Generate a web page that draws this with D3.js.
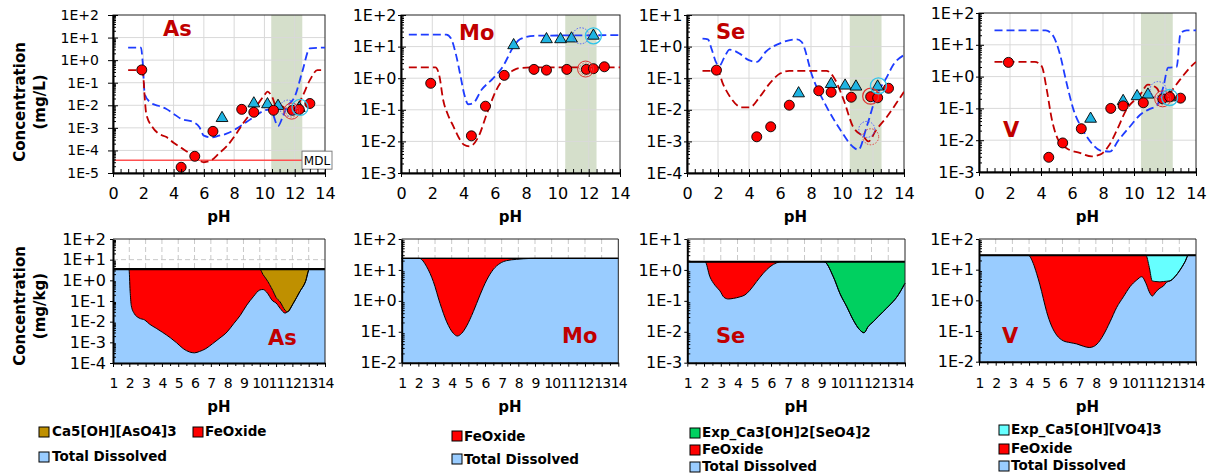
<!DOCTYPE html>
<html><head><meta charset="utf-8">
<script src="https://cdn.jsdelivr.net/npm/d3@7"></script>
<style>body{margin:0;background:#fff}svg{display:block}</style>
</head><body>
<svg id="c" width="1214" height="476"></svg>
<script>
// ================= DATA =================
// measured samples (top row), pH of each sample
const sampleRedPH = [1.9, 4.5, 5.4, 6.6, 8.5, 9.3, 10.6, 11.85, 12.3, 13.0];
const sampleTriPH = [7.2, 9.3, 10.2, 10.9, 12.3];

const asRed = [0.37, 1.8e-5, 5.5e-5, 7e-4, 6.6e-3, 4.9e-3, 6e-3, 6e-3, 6.5e-3, 1.2e-2];
const asTri = [2.7e-3, 1.2e-2, 1.1e-2, 9.3e-3, 7.5e-3];
const moRed = [0.69, 0.015, 0.13, 1.23, 1.9, 1.8, 1.9, 1.9, 2.0, 2.3];
const moTri = [11, 17, 17, 18, 22];
const seRed = [0.18, 1.4e-3, 2.9e-3, 0.014, 0.04, 0.036, 0.025, 0.026, 0.024, 0.048];
const seTri = [0.033, 0.065, 0.058, 0.054, 0.054];
const vRed = [2.8, 2.9e-3, 8.2e-3, 0.023, 0.1, 0.12, 0.15, 0.2, 0.23, 0.21];
const vTri = [0.047, 0.17, 0.24, 0.27, 0.22];

// highlighted (open) circles: [pH, value, kind]
const asOpen = [[11.55, 7.5e-3, "blueDot"], [11.8, 5.5e-3, "redDouble"], [12.35, 8e-3, "cyan"]];
const moOpen = [[11.5, 22, "blueDot"], [11.8, 1.95, "redDouble"], [12.3, 22, "cyan"]];
const seOpen = [[11.6, 2.4e-3, "blueDot"], [11.85, 1.4e-3, "redDot"], [11.85, 0.027, "red"], [12.35, 0.057, "cyan"]];
const vOpen = [[11.55, 0.39, "blueDot"], [11.85, 0.2, "redDouble"], [12.3, 0.22, "cyan"]];

// model curves (top row): [pH, mg/L]
const asBlueModel = [[1,3.6],[1.85,3.6],[1.95,1.0],[2.1,0.03],[2.5,0.013],[3,0.0095],[3.5,0.007],[4,0.0042],[4.5,0.0025],[5.3,0.0018],[5.7,0.0011],[6,0.00045],[6.5,0.00038],[7,0.00045],[7.5,0.00055],[8,0.0008],[8.5,0.0013],[9,0.0022],[9.5,0.0037],[10,0.006],[10.4,0.0065],[10.9,0.0012],[11.2,0.003],[11.5,0.0087],[12,0.024],[12.5,0.31],[13,3.3],[14,3.6]];
const asRedModel = [[1,0.36],[1.9,0.36],[2.0,0.2],[2.08,0.03],[2.2,0.004],[2.6,0.0011],[3,0.00056],[3.5,0.0004],[4,0.00022],[4.5,0.00013],[5,0.00008],[5.5,0.000045],[6,0.00003],[6.5,0.000037],[7,0.000074],[7.5,0.00015],[8,0.0004],[8.5,0.0013],[9,0.0037],[9.5,0.01],[10,0.028],[10.2,0.04],[10.5,0.024],[10.8,0.0085],[11.2,0.009],[11.5,0.0056],[12,0.007],[12.5,0.024],[13,0.13],[13.5,0.36],[14,0.36]];
const moBlueModel = [[0.5,24],[2.9,24],[3.2,18],[3.5,6],[3.8,1.2],[4.05,0.3],[4.3,0.15],[4.6,0.16],[5.15,0.43],[5.9,1],[6.5,2.3],[7.2,10],[7.6,17],[8.5,22],[14,23]];
const moRedModel = [[0.5,2.2],[2.2,2.2],[2.45,1.2],[2.7,0.2],[3.0,0.07],[3.35,0.03],[3.7,0.013],[4,0.008],[4.4,0.007],[4.95,0.014],[5.5,0.078],[6.1,0.43],[6.65,1.1],[7.2,1.8],[7.6,2.1],[8.5,2.2],[14,2.2]];
const seBlueModel = [[1,1.8],[1.35,1.7],[1.6,0.8],[1.9,0.3],[2.1,0.25],[2.4,0.45],[2.75,0.8],[3.4,0.6],[3.95,0.38],[4.5,0.33],[5.1,0.7],[6,1.27],[7.1,1.7],[7.4,1.4],[8.1,0.11],[9,0.0126],[9.9,0.0023],[10.7,0.00068],[11.05,0.00054],[11.6,0.003],[12.2,0.026],[12.9,0.11],[13.3,0.26],[14,0.54]];
const seRedModel = [[1,0.17],[2.0,0.17],[2.3,0.07],[2.85,0.023],[3.5,0.012],[4.05,0.012],[4.7,0.026],[5.35,0.07],[6,0.14],[6.6,0.17],[9,0.17],[9.45,0.11],[10.1,0.021],[10.7,0.003],[11.4,0.0014],[11.7,0.001],[12.2,0.0023],[12.9,0.006],[13.5,0.016],[14,0.037]];
const vBlueModel = [[1,28.5],[4.3,28.5],[4.8,18.5],[5.2,5.5],[5.65,0.63],[6.1,0.09],[6.7,0.021],[7.27,0.008],[7.8,0.0048],[8.45,0.0044],[9,0.01],[9.74,0.027],[10.4,0.063],[11,0.095],[11.46,0.12],[11.9,0.49],[12.2,1.9],[12.75,2],[13.0,23],[13.4,28.5],[14,28.5]];
const vRedModel = [[1,2.9],[3.6,2.9],[4.05,2.1],[4.37,0.39],[4.7,0.045],[5.1,0.0105],[5.65,0.0056],[6.5,0.004],[7.27,0.0031],[7.8,0.0035],[8.35,0.0064],[8.9,0.021],[9.5,0.09],[10.4,0.27],[10.9,0.56],[11.46,0.44],[11.9,0.19],[12.3,0.3],[12.97,0.8],[13.6,1.9],[14,2.9]];

// shaded pH band and MDL
const asBand = [10.45, 12.5];
const moBand = [10.5, 12.5];
const seBand = [10.5, 12.55];
const vBand = [10.45, 12.5];
const asMDL = 3.7e-5;

// tick labels
const topXTicks = [0, 2, 4, 6, 8, 10, 12, 14];
const bottomXTicks = [1, 2, 3, 4, 5, 6, 7, 8, 9, 10, 11, 12, 13, 14];

// bottom row: partitioning (mg/kg)
const asPH = [1, 1.98, 2.05, 2.12, 2.3, 2.6, 2.95, 3.25, 3.65, 4.05, 4.5, 4.9, 5.3, 5.7, 6.0, 6.3, 6.7, 7.1, 7.5, 8.0, 8.4, 8.8, 9.2, 9.6, 10.0, 10.2, 10.4, 10.8, 11.0, 11.25, 11.55, 11.7, 12.05, 12.45, 12.8, 13.05, 14];
const asDissolved = [3.5, 3.5, 0.3, 0.06, 0.025, 0.015, 0.012, 0.0075, 0.0048, 0.003, 0.0017, 0.00095, 0.0005, 0.00034, 0.00031, 0.00036, 0.0005, 0.00085, 0.0015, 0.0032, 0.008, 0.02, 0.063, 0.16, 0.34, 0.36, 0.28, 0.1, 0.08, 0.044, 0.026, 0.03, 0.076, 0.28, 0.85, 3.5, 3.5];
const asFeOxide = [0, 0, 3.2, 3.44, 3.48, 3.49, 3.49, 3.49, 3.5, 3.5, 3.5, 3.5, 3.5, 3.5, 3.5, 3.5, 3.5, 3.5, 3.5, 3.5, 3.49, 3.48, 3.44, 3.34, 3.16, 1.54, 0.87, 0.22, 0.07, 0.046, 0.01, 0, 0, 0, 0, 0, 0];
const asMineral = [0, 0, 0, 0, 0, 0, 0, 0, 0, 0, 0, 0, 0, 0, 0, 0, 0, 0, 0, 0, 0, 0, 0, 0, 0, 1.6, 2.35, 3.18, 3.35, 3.41, 3.46, 3.47, 3.42, 3.22, 2.65, 0, 0];

const moPH = [1, 2.06, 2.5, 2.9, 3.3, 3.7, 4.1, 4.34, 4.6, 4.9, 5.3, 5.7, 6.1, 6.5, 6.9, 7.3, 7.9, 8.7, 9.2, 14];
const moDissolved = [23.7, 23.7, 12.7, 4.2, 0.83, 0.21, 0.089, 0.073, 0.089, 0.155, 0.45, 1.55, 4.7, 10.4, 16.3, 20, 22, 23.5, 23.7, 23.7];
const moFeOxide = [0, 0, 11, 19.5, 22.9, 23.5, 23.6, 23.6, 23.6, 23.5, 23.25, 22.15, 19, 13.3, 7.4, 3.7, 1.7, 0.2, 0, 0];

const sePH = [1, 2.06, 2.35, 2.65, 2.95, 3.19, 3.45, 3.75, 4.15, 4.44, 4.74, 5.14, 5.54, 5.94, 6.34, 6.65, 9.16, 9.72, 10.12, 10.52, 10.91, 11.3, 11.55, 11.81, 12.1, 12.4, 12.7, 13.1, 13.5, 14];
const seDissolved = [1.85, 1.85, 0.6, 0.32, 0.21, 0.13, 0.115, 0.12, 0.135, 0.155, 0.22, 0.42, 0.78, 1.27, 1.7, 1.85, 1.85, 0.6, 0.17, 0.065, 0.024, 0.0115, 0.0093, 0.015, 0.021, 0.031, 0.045, 0.074, 0.13, 0.37];
const seFeOxide = [0, 0, 1.25, 1.53, 1.64, 1.72, 1.735, 1.73, 1.715, 1.695, 1.63, 1.43, 1.07, 0.58, 0.15, 0, 0, 0, 0, 0, 0, 0, 0, 0, 0, 0, 0, 0, 0, 0];
const seMineral = [0, 0, 0, 0, 0, 0, 0, 0, 0, 0, 0, 0, 0, 0, 0, 0, 0, 1.25, 1.68, 1.785, 1.826, 1.838, 1.84, 1.835, 1.829, 1.819, 1.805, 1.776, 1.72, 1.48];

const vPH = [1, 3.96, 4.25, 4.45, 4.65, 4.85, 5.05, 5.35, 5.65, 6.05, 6.45, 6.85, 7.25, 7.6, 7.85, 8.15, 8.45, 8.85, 9.25, 9.65, 10.05, 10.45, 10.75, 11.0, 11.2, 11.38, 11.6, 11.84, 12.04, 12.24, 12.44, 12.74, 13.04, 13.34, 13.54, 14];
const vDissolved = [29.3, 29.3, 16, 7.6, 3.2, 1.17, 0.43, 0.145, 0.074, 0.048, 0.042, 0.038, 0.032, 0.029, 0.031, 0.042, 0.074, 0.2, 0.59, 1.3, 2.8, 4.6, 5.9, 3.6, 1.9, 1.38, 1.9, 2.5, 2.9, 3.9, 4.3, 5.9, 9.7, 18, 29.3, 29.3];
const vFeOxide = [0, 0, 13.3, 21.7, 26.1, 28.1, 28.9, 29.2, 29.2, 29.25, 29.26, 29.26, 29.27, 29.27, 29.27, 29.26, 29.2, 29.1, 28.7, 28.0, 26.5, 24.7, 23.4, 25.7, 10.1, 2.9, 2.2, 1.5, 1.2, 0.3, 0, 0, 0, 0, 0, 0];
const vMineral = [0, 0, 0, 0, 0, 0, 0, 0, 0, 0, 0, 0, 0, 0, 0, 0, 0, 0, 0, 0, 0, 0, 0, 0, 17.3, 25, 25.2, 25.3, 25.2, 25.1, 25.0, 23.4, 19.6, 11.3, 0, 0];

// ================= DRAWING =================
const svg = d3.select("#c");
const defs = svg.append("defs");
const FONT = "'DejaVu Sans', Verdana, sans-serif";
const fmtE = v => { const e = Math.round(Math.log10(v)); return "1E" + (e >= 0 ? "+" : "-") + Math.abs(e); };
function decades(lo, hi) { const a = []; for (let e = Math.round(Math.log10(lo)); e <= Math.round(Math.log10(hi)); e++) a.push(+("1e" + e)); return a; }
function minors(lo, hi) { const a = []; for (let e = Math.round(Math.log10(lo)); e < Math.round(Math.log10(hi)); e++) for (let k = 2; k <= 9; k++) a.push(+(k + "e" + e)); return a; }

function styleAxis(ga, fs) {
  ga.attr("font-family", FONT).attr("font-size", fs);
  ga.selectAll("text").attr("fill", "#000");
  ga.selectAll("line").attr("stroke", "#000");
}

function drawTop(p) {
  const x = d3.scaleLinear().domain([0, 14]).range([p.x0, p.x1]);
  const y = d3.scaleLog().domain([p.ymin, p.ymax]).range([p.y1, p.y0]);
  const g = svg.append("g");
  const cid = "clip-" + p.id;
  defs.append("clipPath").attr("id", cid).append("rect")
    .attr("x", p.x0).attr("y", p.y0).attr("width", p.x1 - p.x0).attr("height", p.y1 - p.y0);
  g.append("rect").attr("x", x(p.band[0])).attr("y", p.y0)
    .attr("width", x(p.band[1]) - x(p.band[0])).attr("height", p.y1 - p.y0).attr("fill", "#d5dfcb");
  const dec = decades(p.ymin, p.ymax);
  g.append("g").selectAll("line").data(topXTicks.slice(1, -1)).join("line")
    .attr("x1", d => x(d)).attr("x2", d => x(d)).attr("y1", p.y0).attr("y2", p.y1)
    .attr("stroke", "#d9d9d9");
  g.append("g").selectAll("line").data(dec.slice(1, -1)).join("line")
    .attr("x1", p.x0).attr("x2", p.x1).attr("y1", d => y(d)).attr("y2", d => y(d))
    .attr("stroke", "#d9d9d9");
  g.append("rect").attr("x", p.x0).attr("y", p.y0).attr("width", p.x1 - p.x0).attr("height", p.y1 - p.y0)
    .attr("fill", "none").attr("stroke", "#222").attr("stroke-width", 1);

  const pg = g.append("g").attr("clip-path", `url(#${cid})`);
  if (p.mdl) {
    pg.append("line").attr("x1", p.x0).attr("x2", p.x1).attr("y1", y(p.mdl)).attr("y2", y(p.mdl))
      .attr("stroke", "#ff5050").attr("stroke-width", 1.5);
  }
  const ln = d3.line().x(d => x(d[0])).y(d => y(d[1])).curve(d3.curveMonotoneX);
  pg.append("path").attr("d", ln(p.blue)).attr("fill", "none").attr("stroke", "#1e3cff")
    .attr("stroke-width", 1.8).attr("stroke-dasharray", "8,4");
  pg.append("path").attr("d", ln(p.redM)).attr("fill", "none").attr("stroke", "#c00000")
    .attr("stroke-width", 1.8).attr("stroke-dasharray", "8,4");

  g.append("g").selectAll("path").data(d3.zip(sampleTriPH, p.tri)).join("path")
    .attr("transform", d => `translate(${x(d[0])},${y(d[1])})`)
    .attr("d", d3.symbol(d3.symbolTriangle, 60))
    .attr("fill", "#1fb4e2").attr("stroke", "#000").attr("stroke-width", 0.9);
  g.append("g").selectAll("circle").data(d3.zip(sampleRedPH, p.red)).join("circle")
    .attr("cx", d => x(d[0])).attr("cy", d => y(d[1])).attr("r", 5)
    .attr("fill", "#ff0000").attr("stroke", "#000").attr("stroke-width", 0.9);

  const og = g.append("g").attr("fill", "none");
  p.open.forEach(([ph, v, kind]) => {
    const cx = x(ph), cy = y(v);
    if (kind === "blueDot") og.append("circle").attr("cx", cx).attr("cy", cy).attr("r", 8).attr("stroke", "#4f5cff").attr("stroke-dasharray", "1.5,1.5");
    if (kind === "redDot") og.append("circle").attr("cx", cx).attr("cy", cy).attr("r", 8).attr("stroke", "#e04040").attr("stroke-dasharray", "1.5,1.5");
    if (kind === "red") og.append("circle").attr("cx", cx).attr("cy", cy).attr("r", 8).attr("stroke", "#e03030").attr("stroke-width", 1.2);
    if (kind === "redDouble") {
      og.append("circle").attr("cx", cx).attr("cy", cy).attr("r", 8).attr("stroke", "#e03030").attr("stroke-width", 1);
      og.append("circle").attr("cx", cx).attr("cy", cy).attr("r", 6).attr("stroke", "#e06060").attr("stroke-dasharray", "1.5,1.5");
    }
    if (kind === "cyan") og.append("circle").attr("cx", cx).attr("cy", cy).attr("r", 8).attr("stroke", "#30c4ea").attr("stroke-width", 1.3);
  });

  if (p.mdl) {
    const my = y(p.mdl);
    g.append("rect").attr("x", p.x1 - 23).attr("y", my - 9).attr("width", 30).attr("height", 18)
      .attr("fill", "#fff").attr("stroke", "#808080");
    g.append("text").attr("x", p.x1 - 8).attr("y", my + 4.5).attr("text-anchor", "middle")
      .attr("font-family", FONT).attr("font-size", 12).text("MDL");
  }

  // axes
  const ay = g.append("g").attr("transform", `translate(${p.x0},0)`)
    .call(d3.axisLeft(y).tickValues(dec).tickFormat(fmtE).tickSizeInner(p.tickOut).tickSizeOuter(0).tickPadding(p.labPad));
  styleAxis(ay, p.yFs);
  ay.select(".domain").attr("stroke", "#000").attr("stroke-width", 2);
  g.append("g").attr("transform", `translate(${p.x0},0)`)
    .call(d3.axisLeft(y).tickValues(minors(p.ymin, p.ymax)).tickFormat("").tickSizeInner(-3).tickSizeOuter(0))
    .call(s => { s.select(".domain").remove(); s.selectAll("line").attr("stroke", "#000"); });
  g.append("g").attr("transform", `translate(${p.x0},0)`)
    .call(d3.axisLeft(y).tickValues(dec).tickFormat("").tickSizeInner(-5).tickSizeOuter(0))
    .call(s => { s.select(".domain").remove(); s.selectAll("line").attr("stroke", "#000"); });

  const ax = g.append("g").attr("transform", `translate(0,${p.y1})`)
    .call(d3.axisBottom(x).tickValues(topXTicks).tickFormat(d3.format("d")).tickSizeInner(4).tickSizeOuter(0).tickPadding(4));
  styleAxis(ax, 16);
  ax.selectAll("text").attr("dy", null).attr("y", 199 - p.y1);
  ax.select(".domain").attr("stroke", "#000").attr("stroke-width", 2);
  g.append("g").attr("transform", `translate(0,${p.y1})`)
    .call(d3.axisBottom(x).tickValues(d3.range(0, 14.01, 0.5)).tickFormat("").tickSizeInner(-4).tickSizeOuter(0))
    .call(s => { s.select(".domain").remove(); s.selectAll("line").attr("stroke", "#000"); });

  g.append("text").attr("x", (p.x0 + p.x1) / 2).attr("y", 222).attr("text-anchor", "middle")
    .attr("font-family", FONT).attr("font-weight", "bold").attr("font-size", 15).text("pH");
  g.append("text").attr("x", p.lx).attr("y", p.ly).attr("font-family", FONT).attr("font-weight", "bold")
    .attr("font-size", 21).attr("fill", "#c00000").text(p.label);
}

function drawBottom(p) {
  const x = d3.scaleLinear().domain([1, 14]).range([p.x0, p.x1]);
  const y = d3.scaleLog().domain([p.ymin, p.ymax]).range([p.y1, p.y0]);
  const g = svg.append("g");
  const dec = decades(p.ymin, p.ymax);
  g.append("g").selectAll("line").data(bottomXTicks.slice(1, -1)).join("line")
    .attr("x1", d => x(d)).attr("x2", d => x(d)).attr("y1", p.y0).attr("y2", p.y1)
    .attr("stroke", "#c8c8c8").attr("stroke-dasharray", "5,3");
  g.append("g").selectAll("line").data(dec.slice(1, -1)).join("line")
    .attr("x1", p.x0).attr("x2", p.x1).attr("y1", d => y(d)).attr("y2", d => y(d))
    .attr("stroke", "#c8c8c8").attr("stroke-dasharray", "5,3");

  const rows = p.ph.map((ph, i) => {
    const d = p.dis[i], f = d + p.fe[i], t = f + (p.min ? p.min[i] : 0);
    return { ph, d, f, t };
  });
  const area = (lo, hi) => d3.area().x(r => x(r.ph)).y0(lo).y1(hi).curve(d3.curveMonotoneX);
  g.append("path").attr("d", area(() => p.y1, r => y(r.d))(rows)).attr("fill", "#99ccff");
  g.append("path").attr("d", area(r => y(r.d), r => y(r.f))(rows)).attr("fill", "#ff0000");
  if (p.min) g.append("path").attr("d", area(r => y(r.f), r => y(r.t))(rows)).attr("fill", p.minColor);
  const ln = acc => d3.line().x(r => x(r.ph)).y(acc).curve(d3.curveMonotoneX)(rows);
  g.append("path").attr("d", ln(r => y(r.d))).attr("fill", "none").attr("stroke", "#000").attr("stroke-width", 1);
  g.append("path").attr("d", ln(r => y(r.f))).attr("fill", "none").attr("stroke", "#000").attr("stroke-width", 1);
  g.append("path").attr("d", ln(r => y(r.t))).attr("fill", "none").attr("stroke", "#000").attr("stroke-width", p.topW);

  g.append("line").attr("x1", p.x0).attr("x2", p.x1).attr("y1", p.y0).attr("y2", p.y0).attr("stroke", "#222");
  g.append("line").attr("x1", p.x1).attr("x2", p.x1).attr("y1", p.y0).attr("y2", p.y1).attr("stroke", "#222");

  const ay = g.append("g").attr("transform", `translate(${p.x0},0)`)
    .call(d3.axisLeft(y).tickValues(dec).tickFormat(fmtE).tickSizeInner(3).tickSizeOuter(0).tickPadding(p.labPad));
  styleAxis(ay, 16);
  ay.select(".domain").attr("stroke", "#000").attr("stroke-width", 2);
  g.append("g").attr("transform", `translate(${p.x0},0)`)
    .call(d3.axisLeft(y).tickValues(minors(p.ymin, p.ymax)).tickFormat("").tickSizeInner(-3).tickSizeOuter(0))
    .call(s => { s.select(".domain").remove(); s.selectAll("line").attr("stroke", "#000"); });

  const ax = g.append("g").attr("transform", `translate(0,${p.y1})`)
    .call(d3.axisBottom(x).tickValues(bottomXTicks).tickFormat(d3.format("d")).tickSizeInner(4).tickSizeOuter(0));
  styleAxis(ax, 14);
  ax.selectAll("text").attr("dy", null).attr("y", 388 - p.y1).attr("letter-spacing", -0.9);
  ax.select(".domain").attr("stroke", "#000").attr("stroke-width", 2);
  g.append("g").attr("transform", `translate(0,${p.y1})`)
    .call(d3.axisBottom(x).tickValues(d3.range(1.5, 14, 1)).tickFormat("").tickSizeInner(3).tickSizeOuter(0))
    .call(s => { s.select(".domain").remove(); s.selectAll("line").attr("stroke", "#000"); });

  g.append("text").attr("x", (p.x0 + p.x1) / 2).attr("y", 412).attr("text-anchor", "middle")
    .attr("font-family", FONT).attr("font-weight", "bold").attr("font-size", 15).text("pH");
  g.append("text").attr("x", p.lx).attr("y", p.ly).attr("font-family", FONT).attr("font-weight", "bold")
    .attr("font-size", 21).attr("fill", "#c00000").text(p.label);
}

function legendItem(sx, sy, color, tx, ty, label) {
  svg.append("rect").attr("x", sx).attr("y", sy).attr("width", 10).attr("height", 10)
    .attr("fill", color).attr("stroke", "#000").attr("stroke-width", 1);
  svg.append("text").attr("x", tx).attr("y", ty).attr("font-family", FONT).attr("font-weight", "bold")
    .attr("font-size", 13.5).text(label);
}

drawTop({ id: "as", x0: 113, x1: 325, y0: 15, y1: 173, ymin: 1e-5, ymax: 1e2, band: asBand, red: asRed, tri: asTri,
  blue: asBlueModel, redM: asRedModel, open: asOpen, mdl: asMDL, label: "As", lx: 163, ly: 36, yFs: 14, tickOut: 5, labPad: 9 });
drawTop({ id: "mo", x0: 401, x1: 620, y0: 15, y1: 173, ymin: 1e-3, ymax: 1e2, band: moBand, red: moRed, tri: moTri,
  blue: moBlueModel, redM: moRedModel, open: moOpen, label: "Mo", lx: 459, ly: 40, yFs: 16, tickOut: 3, labPad: 1.5 });
drawTop({ id: "se", x0: 687, x1: 904, y0: 15, y1: 173, ymin: 1e-4, ymax: 1e1, band: seBand, red: seRed, tri: seTri,
  blue: seBlueModel, redM: seRedModel, open: seOpen, label: "Se", lx: 716, ly: 39, yFs: 16, tickOut: 3, labPad: 1.5 });
drawTop({ id: "v", x0: 979, x1: 1196, y0: 13, y1: 172, ymin: 1e-3, ymax: 1e2, band: vBand, red: vRed, tri: vTri,
  blue: vBlueModel, redM: vRedModel, open: vOpen, label: "V", lx: 1003, ly: 137, yFs: 16, tickOut: 3, labPad: 1.5 });

drawBottom({ x0: 113, x1: 325, y0: 239, y1: 363, ymin: 1e-4, ymax: 1e2, ph: asPH, dis: asDissolved, fe: asFeOxide,
  min: asMineral, minColor: "#bf9000", topW: 2.2, labPad: 4, label: "As", lx: 268, ly: 345 });
drawBottom({ x0: 401.7, x1: 618.3, y0: 239, y1: 362.7, ymin: 1e-2, ymax: 1e2, ph: moPH, dis: moDissolved, fe: moFeOxide,
  min: null, topW: 1.2, labPad: 2, label: "Mo", lx: 562, ly: 343 });
drawBottom({ x0: 687.3, x1: 905, y0: 239, y1: 362.7, ymin: 1e-3, ymax: 1e1, ph: sePH, dis: seDissolved, fe: seFeOxide,
  min: seMineral, minColor: "#00d060", topW: 2, labPad: 2, label: "Se", lx: 716, ly: 343 });
drawBottom({ x0: 979, x1: 1196, y0: 239, y1: 361.7, ymin: 1e-2, ymax: 1e2, ph: vPH, dis: vDissolved, fe: vFeOxide,
  min: vMineral, minColor: "#66ffff", topW: 2, labPad: 2, label: "V", lx: 1002, ly: 343 });

// y-axis titles
function yTitle(cx, cy, lines) {
  lines.forEach((t, i) => svg.append("text").attr("transform", `translate(${cx + i * 20},${cy}) rotate(-90)`)
    .attr("text-anchor", "middle").attr("font-family", FONT).attr("font-weight", "bold").attr("font-size", 15).text(t));
}
yTitle(25, 102, ["Concentration", "(mg/L)"]);
yTitle(25, 306, ["Concentration", "(mg/kg)"]);

// legends
legendItem(39, 427, "#bf9000", 52, 436, "Ca5[OH][AsO4]3");
legendItem(193, 427, "#ff0000", 205, 436, "FeOxide");
legendItem(39, 452, "#99ccff", 52, 461, "Total Dissolved");
legendItem(452, 431, "#ff0000", 464, 441, "FeOxide");
legendItem(452, 454, "#99ccff", 464, 464, "Total Dissolved");
legendItem(690, 428, "#00d060", 702, 437, "Exp_Ca3[OH]2[SeO4]2");
legendItem(690, 445, "#ff0000", 702, 454, "FeOxide");
legendItem(690, 462, "#99ccff", 702, 471, "Total Dissolved");
legendItem(999, 425, "#66ffff", 1011, 434, "Exp_Ca5[OH][VO4]3");
legendItem(999, 444, "#ff0000", 1011, 453, "FeOxide");
legendItem(999, 461, "#99ccff", 1011, 470, "Total Dissolved");
</script>
</body></html>
